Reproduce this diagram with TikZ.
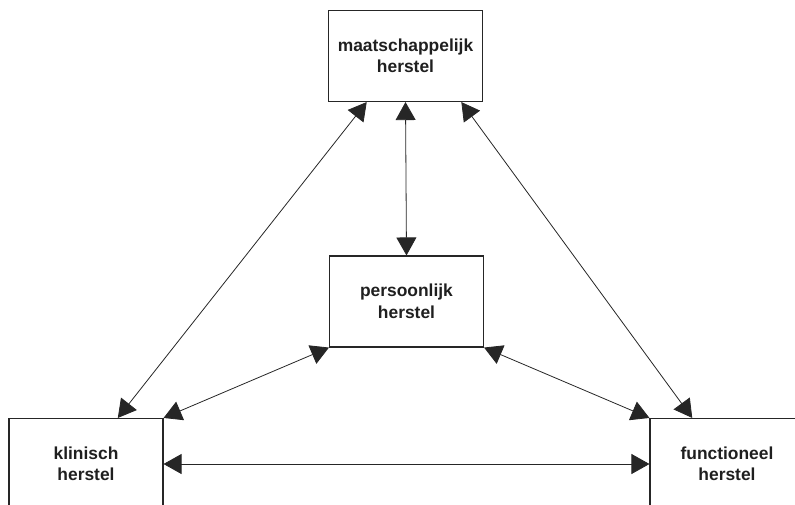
\documentclass[tikz,border=0pt]{standalone}
\usepackage{fontspec}
\setmainfont{Liberation Sans}
\usetikzlibrary{arrows.meta,calc}
\begin{document}
\begin{tikzpicture}[x=1pt,y=-1pt,
  box/.style={draw=black!85, line width=1.1pt, minimum width=154pt, minimum height=91pt,
    inner sep=0pt, align=center, font=\fontsize{17.4}{21.5}\selectfont\bfseries, text=black!88},
  conn/.style={line width=0.8pt, draw=black!85, {Triangle[length=18pt,width=20pt]}-{Triangle[length=18pt,width=20pt]}}]
\useasboundingbox (0,0) rectangle (795,504);
\clip (0,0) rectangle (795,504);
\node[box] (maat) at (405.5,56) {maatschappelijk\\herstel};
\node[box] (pers) at (406.5,301.5) {persoonlijk\\herstel};
\node[box] (klin) at (86,464) {klinisch\\herstel};
\node[box] (func) at (727,464) {functioneel\\herstel};
\coordinate (m1) at ($(maat.south west)!0.25!(maat.south east)$);
\coordinate (m3) at ($(maat.south west)!0.86!(maat.south east)$);
\coordinate (k1) at ($(klin.north west)!0.705!(klin.north east)$);
\coordinate (f1) at ($(func.north west)!0.276!(func.north east)$);
\draw[conn] (maat.south) -- (pers.north);
\draw[conn] (m1) -- (k1);
\draw[conn] (m3) -- (f1);
\draw[conn] (pers.south west) -- (klin.north east);
\draw[conn] (pers.south east) -- (func.north west);
\draw[conn] (klin.east) -- (func.west);
\end{tikzpicture}
\end{document}
